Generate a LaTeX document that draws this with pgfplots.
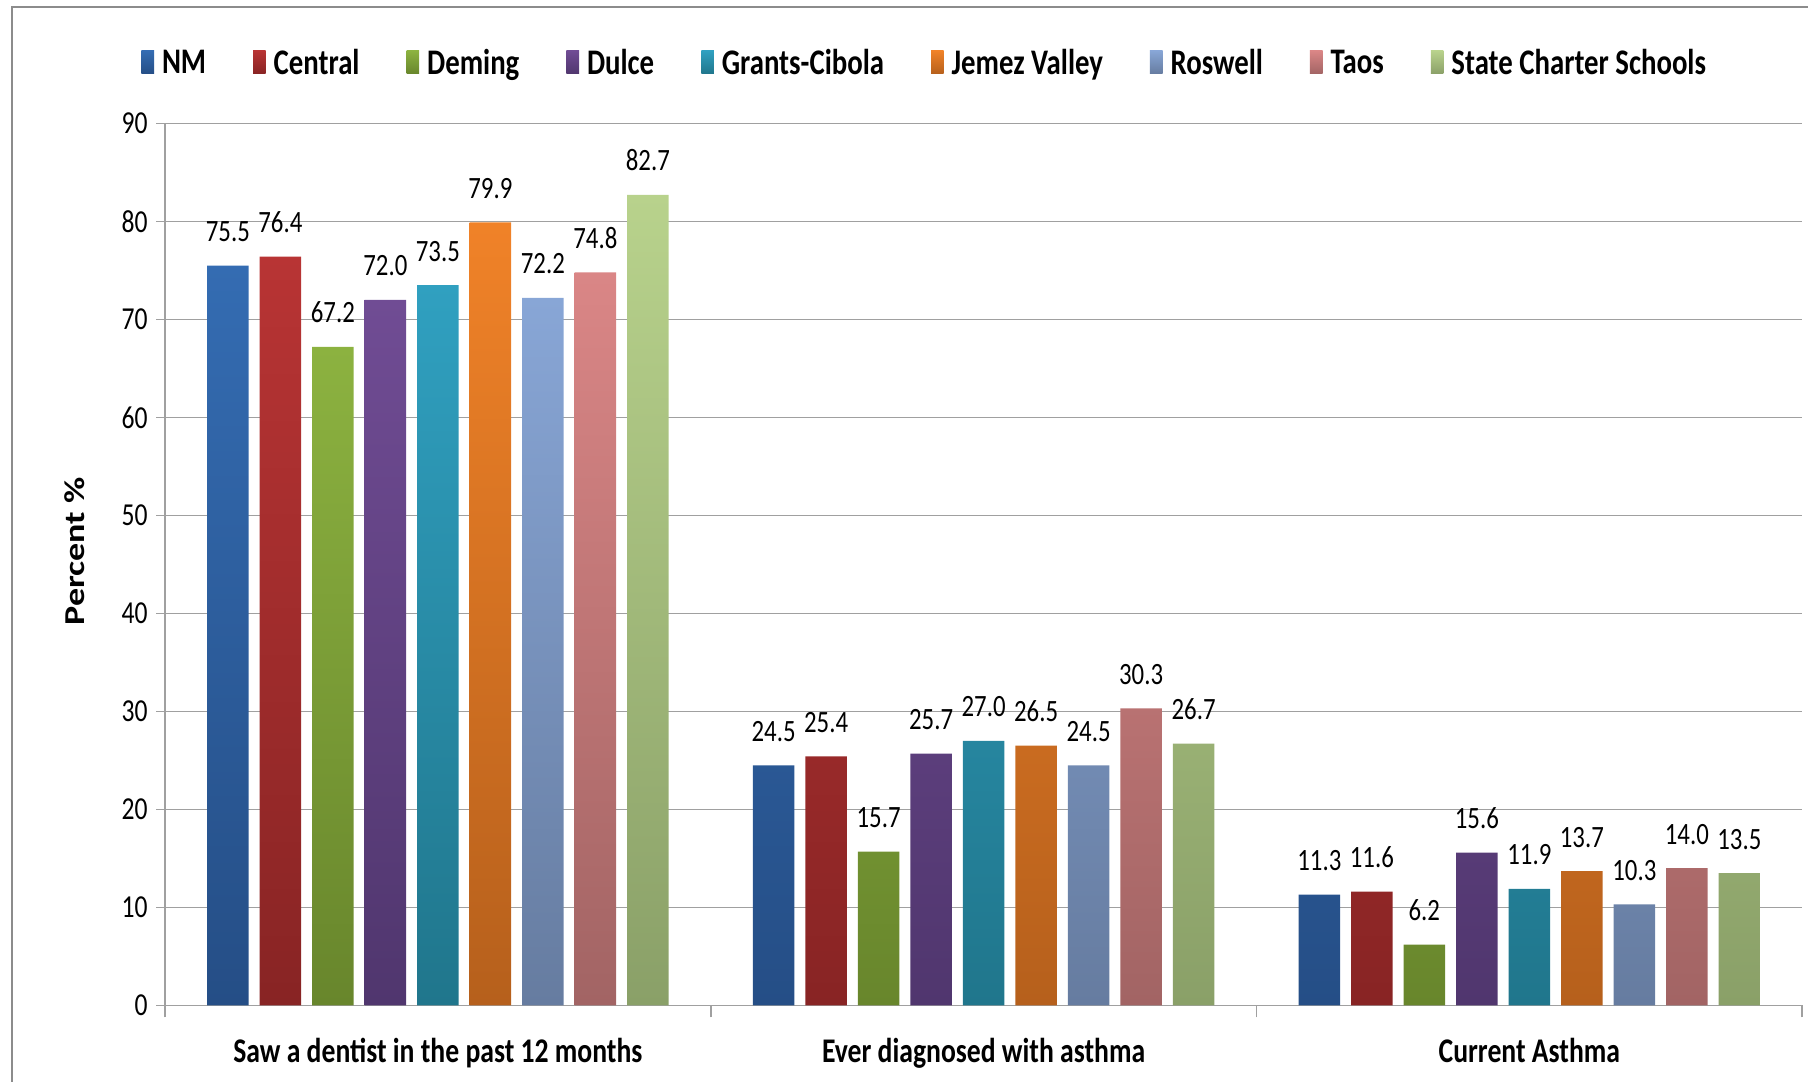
\documentclass[border=0pt]{standalone}
\usepackage{pgfplots}
\pgfplotsset{compat=1.18}
\usepackage{fontspec}
\setmainfont{Carlito}[FakeStretch=0.8]
\newfontfamily\plainfont{Carlito}

\definecolor{framegray}{RGB}{140,140,140}
\definecolor{gridgray}{RGB}{160,160,160}
\definecolor{nmT}{RGB}{52,108,178}   \definecolor{nmB}{RGB}{37,78,134}
\definecolor{ceT}{RGB}{184,52,52}    \definecolor{ceB}{RGB}{136,36,36}
\definecolor{deT}{RGB}{140,178,64}   \definecolor{deB}{RGB}{104,134,44}
\definecolor{duT}{RGB}{112,76,148}   \definecolor{duB}{RGB}{80,54,110}
\definecolor{grT}{RGB}{48,160,192}   \definecolor{grB}{RGB}{32,118,140}
\definecolor{jeT}{RGB}{240,130,40}   \definecolor{jeB}{RGB}{182,96,28}
\definecolor{roT}{RGB}{136,166,214}  \definecolor{roB}{RGB}{102,124,160}
\definecolor{taT}{RGB}{218,134,134}  \definecolor{taB}{RGB}{162,100,100}
\definecolor{scT}{RGB}{184,210,140}  \definecolor{scB}{RGB}{138,160,104}

\begin{document}
\begin{tikzpicture}
\useasboundingbox (0,0) rectangle (904pt,540.5pt);
\draw[framegray, line width=1.3pt] (6pt,-5pt) -- (6pt,537pt) -- (910pt,537pt);
\begin{axis}[
    at={(82.5pt,37.8pt)}, anchor=south west,
    scale only axis, width=818.6pt, height=441pt,
    ybar=5.5pt, bar width=20.75pt,
    xmin=-0.5, xmax=2.5, ymin=0, ymax=90,
    ytick={0,10,...,90},
    xtick={0,1,2},
    xticklabels={Saw a dentist in the past 12 months, Ever diagnosed with asthma, Current Asthma},
    minor xtick={-0.5,0.5,1.5,2.5},
    major x tick style={draw=none},
    tick align=outside,
    major tick length=4.5pt, minor tick length=6pt,
    tick style={gridgray, line width=0.8pt},
    axis x line*=bottom, axis y line*=left,
    axis line style={gridgray, line width=0.8pt},
    ymajorgrids,
    major grid style={gridgray, line width=0.8pt},
    /pgf/number format/assume math mode=true,
    yticklabel style={font=\fontsize{16}{18}\selectfont, anchor=east, inner sep=0pt, xshift=-4pt},
    xticklabel style={font=\fontsize{17.3}{20}\selectfont\bfseries, anchor=base, yshift=-24pt},
    ylabel={\scalebox{1}[0.8]{Percent \%}},
    every axis y label/.style={at={([xshift=-45pt]axis description cs:0,0.515)}, rotate=90, anchor=center, font=\fontsize{18}{20}\selectfont\plainfont\bfseries},
    nodes near coords={\pgfmathprintnumber[fixed,fixed zerofill,precision=1]{\pgfplotspointmeta}},
    every node near coord/.append style={font=\fontsize{15.5}{17}\selectfont, text=black, anchor=base, inner sep=0pt, yshift=12pt},
    legend image code/.code={\path[#1, draw=none] (0pt,-5.2pt) rectangle (6.3pt,6.3pt);},
    legend style={
        at={(axis description cs:0,1)}, anchor=west,
        xshift=-12pt, yshift=30pt,
        draw=none, fill=none, inner sep=0pt,
        legend columns=-1,
        font=\fontsize{18}{20}\selectfont\bfseries,
        nodes={inner xsep=0pt},
        /tikz/every odd column/.append style={column sep=4pt},
        /tikz/every even column/.append style={column sep=23.5pt}
    },
]
\addplot[draw=none, top color=nmT, bottom color=nmB] coordinates {(0,75.5) (1,24.5) (2,11.3)};
\addplot[draw=none, top color=ceT, bottom color=ceB] coordinates {(0,76.4) (1,25.4) (2,11.6)};
\addplot[draw=none, top color=deT, bottom color=deB] coordinates {(0,67.2) (1,15.7) (2,6.2)};
\addplot[draw=none, top color=duT, bottom color=duB] coordinates {(0,72.0) (1,25.7) (2,15.6)};
\addplot[draw=none, top color=grT, bottom color=grB] coordinates {(0,73.5) (1,27.0) (2,11.9)};
\addplot[draw=none, top color=jeT, bottom color=jeB] coordinates {(0,79.9) (1,26.5) (2,13.7)};
\addplot[draw=none, top color=roT, bottom color=roB] coordinates {(0,72.2) (1,24.5) (2,10.3)};
\addplot[draw=none, top color=taT, bottom color=taB] coordinates {(0,74.8) (1,30.3) (2,14.0)};
\addplot[draw=none, top color=scT, bottom color=scB] coordinates {(0,82.7) (1,26.7) (2,13.5)};
\legend{NM, Central, Deming, Dulce, Grants-Cibola, Jemez Valley, Roswell, Taos, State Charter Schools}
\end{axis}
\end{tikzpicture}
\end{document}
